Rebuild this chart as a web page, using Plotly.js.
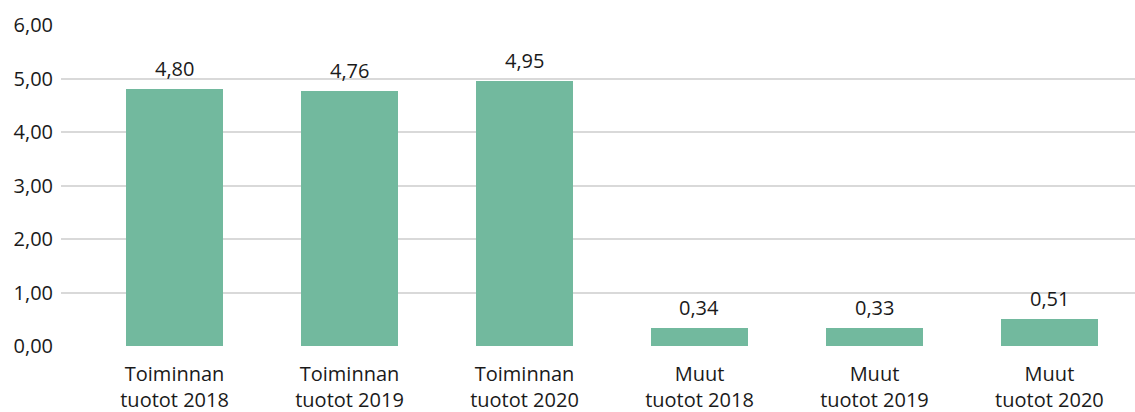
<!DOCTYPE html>
<html>
<head>
<meta charset="utf-8">
<script src="https://cdn.plot.ly/plotly-3.0.1.min.js"></script>
<style>
html,body{margin:0;padding:0;background:#fff;}
#chart{width:1135px;height:412px;}
</style>
</head>
<body>
<div id="chart"></div>
<script>
const categories = [
  "Toiminnan<br>tuotot 2018",
  "Toiminnan<br>tuotot 2019",
  "Toiminnan<br>tuotot 2020",
  "Muut<br>tuotot 2018",
  "Muut<br>tuotot 2019",
  "Muut<br>tuotot 2020"
];
const values = [4.80, 4.76, 4.95, 0.34, 0.33, 0.51];
const yTicks = [0, 1, 2, 3, 4, 5, 6];

const font = {family: "Open Sans, Noto Sans, sans-serif", size: 20, color: "#1a1a1a"};
const xs = categories.map((c, i) => i);

const trace = {
  type: "bar",
  x: xs,
  y: values,
  width: 0.554,
  marker: {color: "#72b99e"},
  hoverinfo: "skip"
};

const annotations = values.map((v, i) => ({
  x: xs[i],
  y: v,
  xref: "x",
  yref: "y",
  text: v.toFixed(2).replace(".", ","),
  showarrow: false,
  yanchor: "bottom",
  yshift: 5,
  font: font
}));

const layout = {
  width: 1135,
  height: 412,
  margin: {l: 61, r: 0, t: 25, b: 66, pad: 0},
  paper_bgcolor: "#ffffff",
  plot_bgcolor: "#ffffff",
  separators: ", ",
  showlegend: false,
  font: font,
  bargap: 0,
  annotations: annotations,
  xaxis: {
    range: [-0.649, 5.489],
    tickmode: "array",
    tickvals: xs,
    ticktext: categories,
    showgrid: false,
    zeroline: false,
    showline: false,
    ticks: "",
    ticklabelstandoff: 14,
    tickfont: font,
    fixedrange: true
  },
  yaxis: {
    range: [0, 6],
    tickmode: "array",
    tickvals: yTicks,
    tickformat: ".2f",
    showgrid: true,
    gridcolor: "#d9d9d9",
    gridwidth: 2,
    zeroline: false,
    showline: false,
    ticks: "",
    ticklabelstandoff: 7,
    tickfont: font,
    fixedrange: true
  }
};

Plotly.newPlot("chart", [trace], layout, {displayModeBar: false, staticPlot: true});
</script>
</body>
</html>
